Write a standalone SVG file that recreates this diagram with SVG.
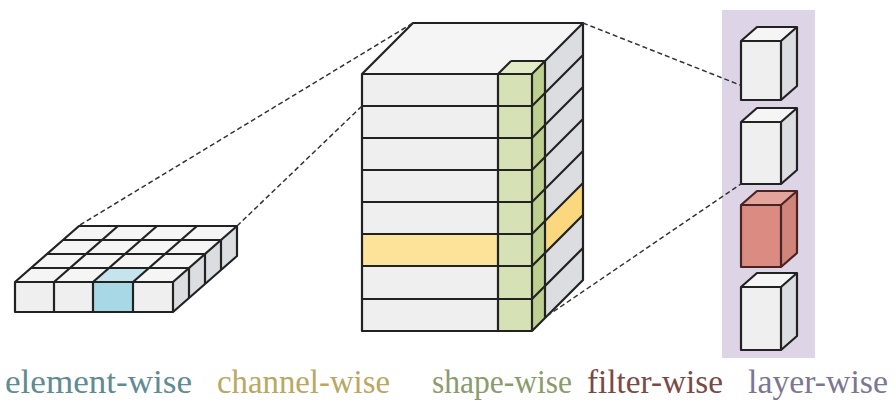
<svg xmlns="http://www.w3.org/2000/svg" width="896" height="409" viewBox="0 0 896 409">
<defs>
<style>
.ln{stroke:#222;stroke-width:2.2;stroke-linejoin:round;fill:none}
.g{fill:#efefef}
.gt{fill:#f5f5f5}
.gs{fill:#dcdde0}
.dash{stroke:#333;stroke-width:1.5;stroke-dasharray:5 3;fill:none}
.lbl{font-family:"Liberation Serif","Times New Roman",serif;font-size:33px}
</style>
</defs>
<rect width="896" height="409" fill="#fff"/>

<g id="layer-panel">
<rect x="722" y="10" width="93" height="348" fill="#ddd5e6"/>
</g>

<g id="element-grid">
<polygon class="gt" points="15,282 79,226 237,226 173,282"/>
<polygon class="gs" points="173,282 237,226 237,256 173,312"/>
<rect class="g" x="15" y="282" width="158" height="30"/>
<rect x="93" y="282" width="40" height="30" fill="#a8d8e6"/>
<polygon points="93,282 109,268 149,268 133,282" fill="#c6e4ee"/>
<g class="ln">
<polygon points="15,282 79,226 237,226 237,256 173,312 15,312"/>
<line x1="15" y1="282" x2="173" y2="282"/>
<line x1="31" y1="268" x2="189" y2="268"/>
<line x1="47" y1="254" x2="205" y2="254"/>
<line x1="63" y1="240" x2="221" y2="240"/>
<line x1="54" y1="282" x2="118" y2="226"/>
<line x1="93" y1="282" x2="157" y2="226"/>
<line x1="133" y1="282" x2="197" y2="226"/>
<line x1="173" y1="282" x2="237" y2="226"/>
<line x1="54" y1="282" x2="54" y2="312"/>
<line x1="93" y1="282" x2="93" y2="312"/>
<line x1="133" y1="282" x2="133" y2="312"/>
<line x1="173" y1="282" x2="173" y2="312"/>
<line x1="189" y1="268" x2="189" y2="298"/>
<line x1="205" y1="254" x2="205" y2="284"/>
<line x1="221" y1="240" x2="221" y2="270"/>
</g>
</g>

<g id="channel-block">
<polygon class="gt" points="362,74 413,23 583,23 545,61 511,61 498,74"/>
<polygon class="gs" points="545,61 583,23 583,280 545,318"/>
<polygon points="545,221 583,183 583,215 545,253" fill="#fbd87e"/>
<rect class="g" x="362" y="74" width="136" height="257"/>
<rect x="362" y="234" width="136" height="32" fill="#fde39a"/>
<rect x="498" y="74" width="34" height="257" fill="#d6e1b6"/>
<polygon points="532,74 545,61 545,318 532,331" fill="#bdd08f"/>
<polygon points="498,74 511,61 545,61 532,74" fill="#e2ebc6"/>
<g class="ln">
<polygon points="362,74 413,23 583,23 583,280 532,331 362,331"/>
<line x1="362" y1="74" x2="532" y2="74"/>
<line x1="498" y1="74" x2="511" y2="61"/>
<line x1="511" y1="61" x2="545" y2="61"/>
<line x1="532" y1="74" x2="583" y2="23"/>
<line x1="498" y1="74" x2="498" y2="331"/>
<line x1="532" y1="74" x2="532" y2="331"/>
<line x1="545" y1="61" x2="545" y2="318"/>
<line x1="362" y1="106" x2="532" y2="106"/><line x1="532" y1="106" x2="583" y2="55"/>
<line x1="362" y1="138" x2="532" y2="138"/><line x1="532" y1="138" x2="583" y2="87"/>
<line x1="362" y1="170" x2="532" y2="170"/><line x1="532" y1="170" x2="583" y2="119"/>
<line x1="362" y1="202" x2="532" y2="202"/><line x1="532" y1="202" x2="583" y2="151"/>
<line x1="362" y1="234" x2="532" y2="234"/><line x1="532" y1="234" x2="583" y2="183"/>
<line x1="362" y1="266" x2="532" y2="266"/><line x1="532" y1="266" x2="583" y2="215"/>
<line x1="362" y1="299" x2="532" y2="299"/><line x1="532" y1="299" x2="583" y2="248"/>
</g>
</g>

<g id="cube1">
<polygon class="gt" points="741,41 757,27 797,27 781,41"/>
<polygon class="gs" points="781,41 797,27 797,86 781,100"/>
<rect class="g" x="741" y="41" width="40" height="59"/>
<polygon class="ln" points="741,41 757,27 797,27 797,86 781,100 741,100"/>
<polyline class="ln" points="741,41 781,41 797,27"/>
<line class="ln" x1="781" y1="41" x2="781" y2="100"/>
</g>
<g id="cube2">
<polygon class="gt" points="741,122 757,108 797,108 781,122"/>
<polygon class="gs" points="781,122 797,108 797,170 781,184"/>
<rect class="g" x="741" y="122" width="40" height="62"/>
<polygon class="ln" points="741,122 757,108 797,108 797,170 781,184 741,184"/>
<polyline class="ln" points="741,122 781,122 797,108"/>
<line class="ln" x1="781" y1="122" x2="781" y2="184"/>
</g>
<g id="cube3">
<polygon points="741,205 757,191 797,191 781,205" fill="#e2a49b"/>
<polygon points="781,205 797,191 797,253 781,267" fill="#d18479"/>
<rect x="741" y="205" width="40" height="62" fill="#da8c82"/>
<g class="ln" style="stroke:#4a2420">
<polygon points="741,205 757,191 797,191 797,253 781,267 741,267"/>
<polyline points="741,205 781,205 797,191"/>
<line x1="781" y1="205" x2="781" y2="267"/>
</g>
</g>
<g id="cube4">
<polygon class="gt" points="741,287 757,273 797,273 781,287"/>
<polygon class="gs" points="781,287 797,273 797,336 781,350"/>
<rect class="g" x="741" y="287" width="40" height="63"/>
<polygon class="ln" points="741,287 757,273 797,273 797,336 781,350 741,350"/>
<polyline class="ln" points="741,287 781,287 797,273"/>
<line class="ln" x1="781" y1="287" x2="781" y2="350"/>
</g>

<g id="connectors">
<line class="dash" x1="80" y1="225" x2="413" y2="23"/>
<line class="dash" x1="237" y1="226" x2="362" y2="106"/>
<line class="dash" x1="583" y1="23" x2="740" y2="85"/>
<line class="dash" x1="547" y1="316" x2="741" y2="184"/>
</g>

<g id="labels">
<text class="lbl" x="5" y="393" textLength="187" lengthAdjust="spacingAndGlyphs" fill="#5f8b93">element-wise</text>
<text class="lbl" x="217" y="393" textLength="173" lengthAdjust="spacingAndGlyphs" fill="#b9a862">channel-wise</text>
<text class="lbl" x="432" y="393" textLength="140" lengthAdjust="spacingAndGlyphs" fill="#8b9b6d">shape-wise</text>
<text class="lbl" x="587" y="393" textLength="136" lengthAdjust="spacingAndGlyphs" fill="#7a4a45">filter-wise</text>
<text class="lbl" x="748" y="393" textLength="140" lengthAdjust="spacingAndGlyphs" fill="#7c7791">layer-wise</text>
</g>
</svg>
